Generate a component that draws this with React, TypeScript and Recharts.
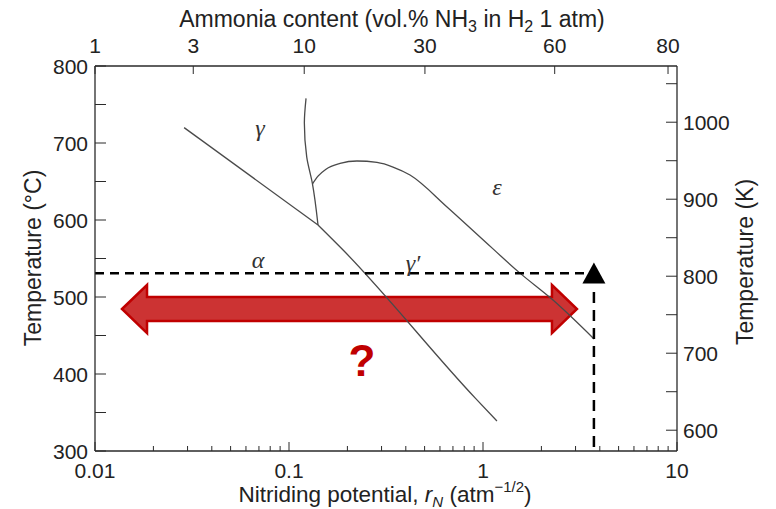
import React from 'react';
import {
  ComposedChart,
  Line,
  XAxis,
  YAxis,
  ReferenceLine,
  ReferenceDot,
  ReferenceArea,
} from 'recharts';

// ---------- data (x = nitriding potential rN, y = temperature in °C) ----------
const alphaGammaLine = [
  { x: 0.0288, y: 720 },
  { x: 0.1411, y: 593.5 },
];
const alphaGammaPrimeLine = [
  { x: 0.1411, y: 593.5 },
  { x: 0.19, y: 561 },
  { x: 0.91, y: 369 },
  { x: 1.18, y: 339 },
];
const gammaGammaPrimeLine = [
  { x: 0.1411, y: 593.5 },
  { x: 0.1319, y: 648 },
  { x: 0.1234, y: 682 },
  { x: 0.12, y: 726 },
  { x: 0.1224, y: 758 },
];
const gammaPrimeEpsilonLine = [
  { x: 0.1322, y: 647 },
  { x: 0.1411, y: 657 },
  { x: 0.1551, y: 666 },
  { x: 0.1833, y: 673.4 },
  { x: 0.224, y: 676.6 },
  { x: 0.284, y: 674.7 },
  { x: 0.3437, y: 668.8 },
  { x: 0.4205, y: 658.4 },
  { x: 0.6524, y: 617 },
  { x: 0.965, y: 578 },
  { x: 1.551, y: 531 },
  { x: 2.295, y: 496 },
  { x: 3.735, y: 445.5 },
];

const phaseLabels = [
  { x: 0.0709, y: 719.5, text: 'γ' },
  { x: 0.0692, y: 548, text: 'α' },
  { x: 0.4357, y: 544, text: 'γ′' },
  { x: 1.181, y: 643, text: 'ε' },
];

// process marker (dashed lines + triangle) and the red range arrow
const processPoint = { x: 3.73, y: 531, triangleY: 530, lineTop: 506.5 };
const rangeArrow = { x1: 0.01378, x2: 3.05, y1: 453.2, y2: 515.6 };
const questionMark = { x: 0.2378, y: 418, text: '?' };

// ticks
const bottomTicks = [
  0.01, 0.02, 0.03, 0.04, 0.05, 0.06, 0.07, 0.08, 0.09,
  0.1, 0.2, 0.3, 0.4, 0.5, 0.6, 0.7, 0.8, 0.9,
  1, 2, 3, 4, 5, 6, 7, 8, 9, 10,
];
const bottomMajor = [0.01, 0.1, 1, 10];
const bottomLabels = ['0.01', '0.1', '1', '10'];

// ammonia content (vol.% NH3) ticks placed at their nitriding potential
const topTickPositions = [0.01, 0.0321, 0.1198, 0.502, 2.342, 8.99];
const topLabels = ['1', '3', '10', '30', '60', '80'];

const leftTicks = [300, 350, 400, 450, 500, 550, 600, 650, 700, 750, 800];
const rightTicks = [600, 650, 700, 750, 800, 850, 900, 950, 1000, 1050];

// ---------- styling ----------
const FONT = 'Arial, "Liberation Sans", Helvetica, sans-serif';
const SERIF = '"Liberation Serif", "Times New Roman", serif';
const AXIS = '#2a2a2a';
const TEXT = '#222';
const CURVE = '#4a4a4a';
const TS = 6;
const TM = 2;

const BottomTick = (p: any) => {
  const { x, y, payload } = p;
  const ay = y - TS - TM;
  const v = payload.value;
  const idx = bottomMajor.indexOf(v);
  const major = idx >= 0;
  return (
    <g>
      <line x1={x} x2={x} y1={ay} y2={ay - (major ? 9 : 5)} stroke={AXIS} strokeWidth={1} />
      {major && (
        <text x={x} y={ay + 12} dy="0.71em" textAnchor="middle" fontFamily={FONT} fontSize={21} fill={TEXT}>
          {bottomLabels[idx]}
        </text>
      )}
    </g>
  );
};

const LeftTick = (p: any) => {
  const { x, y, payload } = p;
  const ax = x + TS + TM;
  const v = payload.value;
  return (
    <g>
      <line x1={ax} x2={ax + 11} y1={y} y2={y} stroke={AXIS} strokeWidth={1} />
      {v % 100 === 0 && (
        <text x={ax - 7} y={y} dy="0.36em" textAnchor="end" fontFamily={FONT} fontSize={21} fill={TEXT}>
          {v}
        </text>
      )}
    </g>
  );
};

const RightTick = (p: any) => {
  const { x, y, payload } = p;
  const ax = x - TS - TM;
  const v = payload.value;
  return (
    <g>
      <line x1={ax} x2={ax - 11} y1={y} y2={y} stroke={AXIS} strokeWidth={1} />
      {v % 100 === 0 && (
        <text x={ax + 6} y={y} dy="0.36em" textAnchor="start" fontFamily={FONT} fontSize={21} fill={TEXT}>
          {v}
        </text>
      )}
    </g>
  );
};

const makeTopTick = (label: string) => (p: any) => (
  <g>
    <line x1={p.cx} x2={p.cx} y1={p.cy} y2={p.cy + 8} stroke={AXIS} strokeWidth={1} />
    <text x={p.cx} y={p.cy - 13} textAnchor="middle" fontFamily={FONT} fontSize={21} fill={TEXT}>
      {label}
    </text>
  </g>
);

const DoubleArrow = (p: any) => {
  const { x, y, width, height } = p;
  const head = 25;
  const cy = y + height / 2;
  const sh = height / 4;
  const pts = [
    [x, cy],
    [x + head, y],
    [x + head, cy - sh],
    [x + width - head, cy - sh],
    [x + width - head, y],
    [x + width, cy],
    [x + width - head, y + height],
    [x + width - head, cy + sh],
    [x + head, cy + sh],
    [x + head, y + height],
  ]
    .map((q) => q.join(','))
    .join(' ');
  return <polygon points={pts} fill="#CC3333" stroke="#C00000" strokeWidth={2.5} strokeLinejoin="miter" />;
};

const Triangle = (p: any) => {
  const { cx, cy } = p;
  const pts = `${cx},${cy - 11.5} ${cx + 11.5},${cy + 9.5} ${cx - 11.5},${cy + 9.5}`;
  return <polygon points={pts} fill="#000" />;
};

const makeLabel = (text: string, size: number, family: string, italic: boolean, color: string, bold = false) =>
  (p: any) => (
    <text
      x={p.cx}
      y={p.cy}
      textAnchor="middle"
      dominantBaseline="central"
      fontFamily={family}
      fontStyle={italic ? 'italic' : 'normal'}
      fontWeight={bold ? 'bold' : 'normal'}
      fontSize={size}
      fill={color}
    >
      {text}
    </text>
  );

export default function App() {
  return (
    <div style={{ position: 'absolute', left: 0, top: 0, width: 776, height: 509, background: '#fff' }}>
      <ComposedChart width={776} height={509} margin={{ top: 36, right: 39, bottom: 28, left: 35 }}>
        <XAxis
          xAxisId="bottom"
          dataKey="x"
          type="number"
          scale="log"
          domain={[0.01, 10]}
          allowDataOverflow
          ticks={bottomTicks}
          interval={0}
          height={30}
          tickSize={TS}
          tickMargin={TM}
          tickLine={false}
          axisLine={{ stroke: AXIS, strokeWidth: 1.3 }}
          tick={<BottomTick />}
        />
        <XAxis
          xAxisId="top"
          orientation="top"
          type="number"
          scale="log"
          domain={[0.01, 10]}
          allowDataOverflow
          height={30}
          tickLine={false}
          tick={false}
          axisLine={{ stroke: AXIS, strokeWidth: 1.3 }}
        />
        <YAxis
          yAxisId="C"
          type="number"
          domain={[300, 800]}
          allowDataOverflow
          ticks={leftTicks}
          interval={0}
          width={60}
          tickSize={TS}
          tickMargin={TM}
          tickLine={false}
          axisLine={{ stroke: AXIS, strokeWidth: 1.3 }}
          tick={<LeftTick />}
        />
        <YAxis
          yAxisId="K"
          orientation="right"
          type="number"
          domain={[573, 1073]}
          allowDataOverflow
          ticks={rightTicks}
          interval={0}
          width={60}
          tickSize={TS}
          tickMargin={TM}
          tickLine={false}
          axisLine={{ stroke: AXIS, strokeWidth: 1.3 }}
          tick={<RightTick />}
        />

        <Line xAxisId="bottom" yAxisId="C" data={alphaGammaLine} dataKey="y" type="linear" stroke={CURVE} strokeWidth={1.3} dot={false} isAnimationActive={false} />
        <Line xAxisId="bottom" yAxisId="C" data={alphaGammaPrimeLine} dataKey="y" type="monotone" stroke={CURVE} strokeWidth={1.3} dot={false} isAnimationActive={false} />
        <Line xAxisId="bottom" yAxisId="C" data={gammaGammaPrimeLine} dataKey="y" type="monotoneY" stroke={CURVE} strokeWidth={1.3} dot={false} isAnimationActive={false} />
        <Line xAxisId="bottom" yAxisId="C" data={gammaPrimeEpsilonLine} dataKey="y" type="monotone" stroke={CURVE} strokeWidth={1.3} dot={false} isAnimationActive={false} />

        {topTickPositions.map((v, i) => (
          <ReferenceDot
            key={'top' + i}
            xAxisId="bottom"
            yAxisId="C"
            x={v}
            y={800}
            r={0}
            ifOverflow="visible"
            shape={makeTopTick(topLabels[i])}
          />
        ))}

        {phaseLabels.map((l) => (
          <ReferenceDot
            key={l.text}
            xAxisId="bottom"
            yAxisId="C"
            x={l.x}
            y={l.y}
            r={0}
            shape={makeLabel(l.text, 24, SERIF, true, '#333')}
          />
        ))}

        <ReferenceLine
          xAxisId="bottom"
          yAxisId="C"
          segment={[{ x: 0.01, y: processPoint.y }, { x: processPoint.x, y: processPoint.y }]}
          stroke="#000"
          strokeWidth={2.5}
          strokeDasharray="9 6"
        />
        <ReferenceLine
          xAxisId="bottom"
          yAxisId="C"
          segment={[{ x: processPoint.x, y: processPoint.lineTop }, { x: processPoint.x, y: 300 }]}
          stroke="#000"
          strokeWidth={2.5}
          strokeDasharray="11 7"
        />
        <ReferenceDot
          xAxisId="bottom"
          yAxisId="C"
          x={processPoint.x}
          y={processPoint.triangleY}
          r={0}
          shape={<Triangle />}
        />

        <ReferenceArea
          xAxisId="bottom"
          yAxisId="C"
          x1={rangeArrow.x1}
          x2={rangeArrow.x2}
          y1={rangeArrow.y1}
          y2={rangeArrow.y2}
          shape={<DoubleArrow />}
        />
        <ReferenceDot
          xAxisId="bottom"
          yAxisId="C"
          x={questionMark.x}
          y={questionMark.y}
          r={0}
          shape={makeLabel(questionMark.text, 44, FONT, false, '#C00000', true)}
        />
      </ComposedChart>

      <svg
        width={776}
        height={509}
        style={{ position: 'absolute', left: 0, top: 0, pointerEvents: 'none' }}
      >
        <text x={392} y={27} textAnchor="middle" fontFamily={FONT} fontSize={23} fill={TEXT}>
          Ammonia content (vol.% NH
          <tspan fontSize={16} dy={5}>3</tspan>
          <tspan dy={-5}> in H</tspan>
          <tspan fontSize={16} dy={5}>2</tspan>
          <tspan dy={-5}> 1 atm)</tspan>
        </text>
        <text x={385} y={502} textAnchor="middle" fontFamily={FONT} fontSize={22.5} fill={TEXT}>
          Nitriding potential, <tspan fontStyle="italic">r</tspan>
          <tspan fontStyle="italic" fontSize={15} dy={5}>N</tspan>
          <tspan dy={-5}> (atm</tspan>
          <tspan fontSize={15} dy={-10}>−1/2</tspan>
          <tspan dy={10}>)</tspan>
        </text>
        <text
          x={0}
          y={0}
          transform="translate(41,258) rotate(-90)"
          textAnchor="middle"
          fontFamily={FONT}
          fontSize={23}
          fill={TEXT}
        >
          Temperature (°C)
        </text>
        <text
          x={0}
          y={0}
          transform="translate(753,262) rotate(-90)"
          textAnchor="middle"
          fontFamily={FONT}
          fontSize={23}
          fill={TEXT}
        >
          Temperature (K)
        </text>
      </svg>
    </div>
  );
}
